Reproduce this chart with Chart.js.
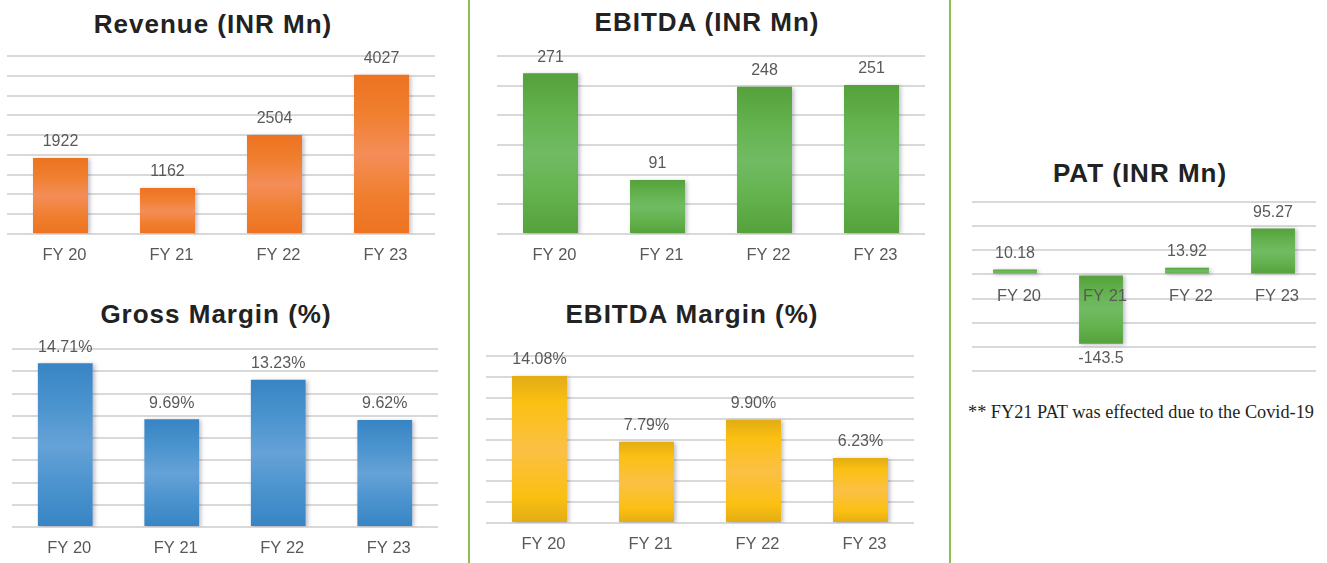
<!DOCTYPE html>
<html>
<head>
<meta charset="utf-8">
<script src="https://cdn.jsdelivr.net/npm/chart.js@4.4.1/dist/chart.umd.min.js"></script>
<style>
  html, body { margin:0; padding:0; background:#fff; }
  body { width:1327px; height:563px; position:relative; overflow:hidden; }
  canvas { position:absolute; }
  .title { position:absolute; text-align:center; font: bold 26px "Liberation Sans", Arial, sans-serif; line-height:30px; letter-spacing:1px; color:#222; white-space:nowrap; }
  .vline { position:absolute; top:0; width:2px; height:563px; background:#8CC152; }
  .note { position:absolute; font: 18.3px "Liberation Serif", "Times New Roman", serif; line-height:20px; color:#231f20; white-space:nowrap; }
</style>
</head>
<body>
<div class="vline" style="left:468px"></div>
<div class="vline" style="left:949px"></div>

<div class="title" style="left:13px; width:400px; top:9px">Revenue (INR Mn)</div>
<div class="title" style="left:16px; width:400px; top:299px">Gross Margin (%)</div>
<div class="title" style="left:507px; width:400px; top:7px">EBITDA (INR Mn)</div>
<div class="title" style="left:492px; width:400px; top:299px">EBITDA Margin (%)</div>
<div class="title" style="left:940px; width:400px; top:158px">PAT (INR Mn)</div>
<div class="note" style="left:968px; top:402px">** FY21 PAT was effected due to the Covid-19</div>

<canvas id="rev"></canvas>
<canvas id="gm"></canvas>
<canvas id="ebitda"></canvas>
<canvas id="em"></canvas>
<canvas id="pat"></canvas>

<script>
// ---- data ----
const categories = ['FY 20', 'FY 21', 'FY 22', 'FY 23'];
const revenue = [1922, 1162, 2504, 4027];
const grossMargin = [14.71, 9.69, 13.23, 9.62];
const ebitda = [271, 91, 248, 251];
const ebitdaMargin = [14.08, 7.79, 9.90, 6.23];
const pat = [10.18, -143.5, 13.92, 95.27];

// ---- styling ----
const SANS = '"Liberation Sans", Arial, sans-serif';
const LABEL_SIZE = 16.5;
const TICK_PAD = 12;

const orangeStops = [[0,'#ED7320'],[0.25,'#F07F30'],[0.5,'#F48D58'],[0.75,'#F07F30'],[1,'#ED7320']];
const blueStops   = [[0,'#3884C4'],[0.25,'#4A93CE'],[0.5,'#65A2D7'],[0.75,'#4A93CE'],[1,'#3884C4']];
const greenStops  = [[0,'#55A13B'],[0.25,'#63B24E'],[0.5,'#71BB63'],[0.75,'#63B24E'],[1,'#55A13B']];
const yellowStops = [[0,'#E2AC14'],[0.18,'#FBC012'],[0.5,'#FBC045'],[0.82,'#FBC012'],[1,'#E2AC14']];

function gradFill(stops) {
  return function(c) {
    const chart = c.chart;
    if (!chart.chartArea || c.type !== 'data') return stops[2][1];
    const ys = chart.scales.y;
    const y1 = ys.getPixelForValue(c.raw), y0 = ys.getPixelForValue(0);
    const top = Math.min(y0, y1), bot = Math.max(y0, y1);
    if (bot - top < 1) return stops[2][1];
    const g = chart.ctx.createLinearGradient(0, top, 0, bot);
    stops.forEach(s => g.addColorStop(s[0], s[1]));
    return g;
  };
}

const barShadow = {
  id: 'barShadow',
  beforeDatasetDraw(chart) {
    const ctx = chart.ctx;
    ctx.save();
    ctx.shadowColor = 'rgba(70,70,100,0.35)';
    ctx.shadowBlur = 4;
    ctx.shadowOffsetX = 2;
    ctx.shadowOffsetY = 1;
  },
  afterDatasetDraw(chart) { chart.ctx.restore(); }
};

const valueLabels = {
  id: 'valueLabels',
  afterDatasetsDraw(chart, args, opts) {
    const ctx = chart.ctx;
    const meta = chart.getDatasetMeta(0);
    const data = chart.data.datasets[0].data;
    ctx.save();
    ctx.font = '16px ' + SANS;
    ctx.fillStyle = '#595959';
    ctx.textAlign = 'center';
    ctx.textBaseline = 'middle';
    meta.data.forEach((bar, i) => {
      const v = data[i];
      const y = v < 0 ? bar.y + 15 : bar.y - 16;
      ctx.fillText(opts.format(v), bar.x, y);
    });
    ctx.restore();
  }
};

function makeChart(id, area, values, stops, yMin, yMax, step, format, xAtZero, barPct) {
  const padL = Math.min(10, area.l), padR = 10, padT = 10, extraB = 50;
  const cv = document.getElementById(id);
  const w = area.r - area.l + padL + padR;
  const h = area.b - area.t + padT + extraB;
  cv.width = w; cv.height = h;
  cv.style.left = (area.l - padL) + 'px';
  cv.style.top = (area.t - padT) + 'px';
  cv.style.width = w + 'px'; cv.style.height = h + 'px';
  const axisH = LABEL_SIZE * 1.2 + 2 * TICK_PAD;
  new Chart(cv, {
    type: 'bar',
    data: {
      labels: categories,
      datasets: [{
        data: values,
        backgroundColor: gradFill(stops),
        borderWidth: 0,
        categoryPercentage: 1,
        barPercentage: barPct
      }]
    },
    options: {
      responsive: false,
      devicePixelRatio: 1,
      animation: false,
      events: [],
      layout: { padding: { left: padL, right: padR, top: padT, bottom: xAtZero ? extraB : extraB - axisH } },
      plugins: {
        legend: { display: false },
        tooltip: { enabled: false },
        title: { display: false },
        valueLabels: { format: format }
      },
      scales: {
        x: {
          position: xAtZero ? { y: 0 } : 'bottom',
          grid: { display: false, drawTicks: false },
          border: { display: false },
          ticks: { z: 1, color: '#595959', padding: TICK_PAD, labelOffset: 4, font: { family: SANS, size: LABEL_SIZE }, maxRotation: 0, autoSkip: false }
        },
        y: {
          min: yMin, max: yMax,
          grid: { color: '#D9D9D9', lineWidth: 2, drawTicks: false },
          border: { display: false },
          ticks: { display: false, stepSize: step }
        }
      }
    },
    plugins: [barShadow, valueLabels]
  });
}

const fmtInt = v => String(v);
const fmtPct = v => v.toFixed(2) + '%';

makeChart('rev',    { l: 7,   r: 435,  t: 56,  b: 234 }, revenue,      orangeStops, 0, 4500, 500, fmtInt, false, 0.514);
makeChart('gm',     { l: 12,  r: 438,  t: 349, b: 527 }, grossMargin,  blueStops,   0, 16,   2,   fmtPct, false, 0.514);
makeChart('ebitda', { l: 497, r: 925,  t: 56,  b: 234 }, ebitda,       greenStops,  0, 300,  50,  fmtInt, false, 0.514);
makeChart('em',     { l: 486, r: 914,  t: 356, b: 523 }, ebitdaMargin, yellowStops, 0, 16,   2,   fmtPct, false, 0.514);
makeChart('pat',    { l: 972, r: 1316, t: 202, b: 371 }, pat,          greenStops,  -200, 150, 50, fmtInt, true, 0.51);
</script>
</body>
</html>
